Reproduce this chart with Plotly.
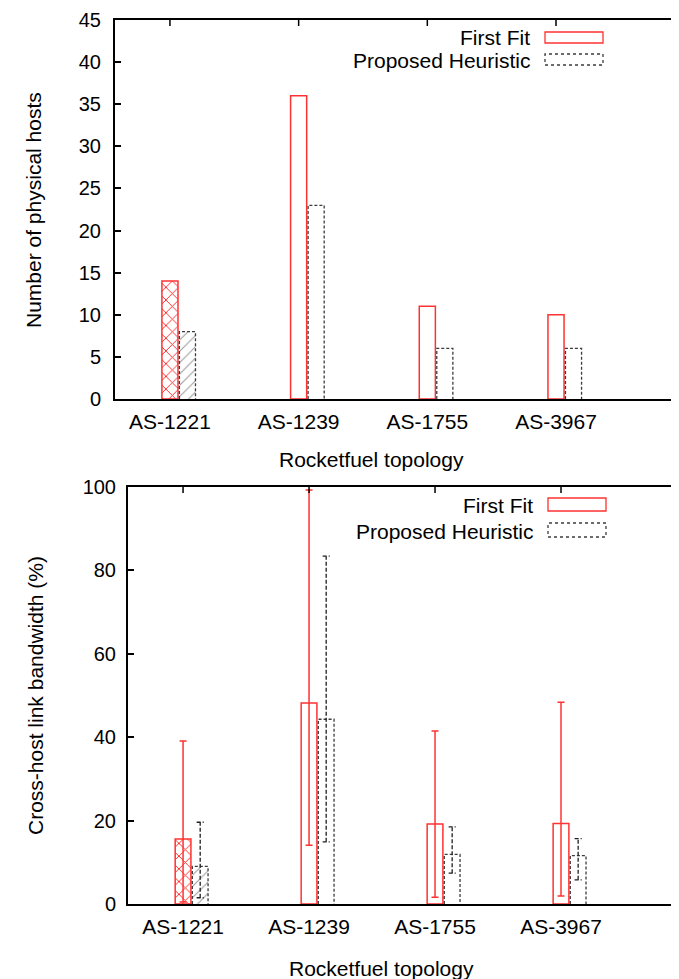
import plotly.graph_objects as go

# ---------------- data ----------------
categories = ["AS-1221", "AS-1239", "AS-1755", "AS-3967"]

hosts_first_fit = [14, 36, 11, 10]
hosts_heuristic = [8, 23, 6, 6]

bw_first_fit = [15.6, 48.2, 19.2, 19.3]
bw_first_fit_low = [0.5, 14.1, 1.6, 1.9]
bw_first_fit_high = [39.1, 99.3, 41.5, 48.4]

bw_heuristic = [9.0, 44.3, 11.9, 11.6]
bw_heuristic_low = [1.5, 14.9, 7.4, 5.8]
bw_heuristic_high = [19.6, 83.4, 18.5, 15.7]

series_names = ["First Fit", "Proposed Heuristic"]

# ---------------- styling ----------------
# page has an 8px body margin; figure sized to fit the 679x979 window
OFF = 8
W, H = 679 - 2 * OFF, 979 - OFF
FONT = "Liberation Sans, Arial, Helvetica, sans-serif"
RED = "rgb(255,50,50)"
GRAY = "rgb(60,60,60)"
BAR_W = 0.125
PH_OFF = 0.136
CAP = 0.028


def px(x):
    return (x - OFF) / W


def py(y):
    return 1 - (y - OFF) / H


xs = list(range(len(categories)))
xs_ph = [x + PH_OFF for x in xs]

fig = go.Figure()


def outline_path(xc, vals):
    ox, oy = [], []
    for x, v in zip(xc, vals):
        ox += [x - BAR_W / 2, x - BAR_W / 2, x + BAR_W / 2, x + BAR_W / 2, None]
        oy += [0, v, v, 0, None]
    return ox, oy


def err_path(xc, lows, highs):
    ox, oy = [], []
    for x, lo, hi in zip(xc, lows, highs):
        ox += [x, x, None, x - CAP, x + CAP, None, x - CAP, x + CAP, None]
        oy += [lo, hi, None, hi, hi, None, lo, lo, None]
    return ox, oy


ff_pattern = dict(shape=["x", "", "", ""], fgcolor="rgb(255,40,40)", bgcolor="white",
                  size=9, solidity=0.2)
ph_pattern = dict(shape=["/", "", "", ""], fgcolor="rgb(150,150,150)",
                  bgcolor="white", size=8, solidity=0.12)

# ---- top subplot ----
fig.add_trace(go.Bar(
    x=xs, y=hosts_first_fit, width=BAR_W, name=series_names[0],
    marker=dict(color="white", line=dict(color=RED, width=1.5), pattern=ff_pattern),
    xaxis="x", yaxis="y", showlegend=False))
fig.add_trace(go.Bar(
    x=xs_ph, y=hosts_heuristic, width=BAR_W, name=series_names[1],
    marker=dict(color="white", line=dict(width=0), pattern=ph_pattern),
    xaxis="x", yaxis="y", showlegend=False))
ox, oy = outline_path(xs_ph, hosts_heuristic)
fig.add_trace(go.Scatter(x=ox, y=oy, mode="lines",
                         line=dict(color=GRAY, width=1.3, dash="3px,2px"),
                         xaxis="x", yaxis="y", showlegend=False, hoverinfo="skip"))

# ---- bottom subplot ----
fig.add_trace(go.Bar(
    x=xs, y=bw_first_fit, width=BAR_W, name=series_names[0],
    marker=dict(color="white", line=dict(color=RED, width=1.5), pattern=ff_pattern),
    error_y=dict(type="data", symmetric=False,
                 array=[h - m for h, m in zip(bw_first_fit_high, bw_first_fit)],
                 arrayminus=[m - l for m, l in zip(bw_first_fit, bw_first_fit_low)],
                 color=RED, thickness=1.5, width=3.5),
    xaxis="x2", yaxis="y2", showlegend=False))
fig.add_trace(go.Bar(
    x=xs_ph, y=bw_heuristic, width=BAR_W, name=series_names[1],
    marker=dict(color="white", line=dict(width=0), pattern=ph_pattern),
    xaxis="x2", yaxis="y2", showlegend=False))
ox, oy = outline_path(xs_ph, bw_heuristic)
fig.add_trace(go.Scatter(x=ox, y=oy, mode="lines",
                         line=dict(color=GRAY, width=1.3, dash="3px,2px"),
                         xaxis="x2", yaxis="y2", showlegend=False, hoverinfo="skip"))
ex, ey = err_path(xs_ph, bw_heuristic_low, bw_heuristic_high)
fig.add_trace(go.Scatter(x=ex, y=ey, mode="lines",
                         line=dict(color="rgb(30,30,30)", width=1.3, dash="4px,2px"),
                         xaxis="x2", yaxis="y2", showlegend=False, hoverinfo="skip"))

tickfont = dict(family=FONT, size=20, color="black")

common_x = dict(tickvals=xs, ticktext=categories, showline=True, linecolor="black",
                linewidth=2, mirror=True, ticks="", showgrid=False, zeroline=False,
                tickfont=dict(family=FONT, size=21, color="black"),
                ticklabelstandoff=3, fixedrange=True, automargin=False)
common_y = dict(showline=True, linecolor="black", linewidth=2, ticks="inside",
                ticklen=6, tickwidth=1.5, tickcolor="black", showgrid=False,
                zeroline=False, tickfont=tickfont, mirror=False,
                automargin=False, fixedrange=True)

# the reference's plot frame runs past the right edge; stop at the figure edge
RIGHT_EDGE = OFF + W
X1_RANGE = [-0.427, 3 + (RIGHT_EDGE - 556) / 128.7]
X2_RANGE = [-0.437, 3 + (RIGHT_EDGE - 561) / 126.0]

fig.update_layout(
    template="none",
    width=W, height=H,
    autosize=False,
    margin=dict(l=0, r=0, t=0, b=0, pad=0, autoexpand=False),
    paper_bgcolor="white", plot_bgcolor="white",
    barmode="overlay",
    font=dict(family=FONT, color="black"),
    xaxis=dict(domain=[px(115), 1], range=X1_RANGE, anchor="y", **common_x),
    yaxis=dict(domain=[py(399), py(20)], range=[0, 45], dtick=5, anchor="x",
               ticklabelstandoff=8, **common_y),
    xaxis2=dict(domain=[px(128), 1], range=X2_RANGE, anchor="y2", **common_x),
    yaxis2=dict(domain=[py(904), py(487)], range=[0, 100], dtick=20, anchor="x2",
                ticklabelstandoff=6, **common_y),
)

shapes = []
# inward tick marks on the top border at each category position
for xref, yref, plot_h in (("x", "y domain", 379), ("x2", "y2 domain", 417)):
    for x in xs:
        shapes.append(dict(type="line", xref=xref, yref=yref, x0=x, x1=x,
                           y0=1, y1=1 - 6 / plot_h,
                           line=dict(color="black", width=1.5)))

titlefont = dict(family=FONT, size=21, color="black")
annotations = [
    dict(text="Number of physical hosts", x=px(33), y=py(210), textangle=-90),
    dict(text="Cross-host link bandwidth (%)", x=px(35), y=py(696), textangle=-90),
    dict(text="Rocketfuel topology", x=px(371), y=py(459)),
    dict(text="Rocketfuel topology", x=px(381), y=py(968)),
]
for a in annotations:
    a.update(xref="paper", yref="paper", showarrow=False, font=titlefont,
             xanchor="center", yanchor="middle")

# legend (text + swatches)
legend_rows = [
    (series_names[0], 532, 38, (545, 603, 32, 43), RED, "solid"),
    (series_names[1], 532, 61, (545, 603, 54, 65), GRAY, "dot"),
    (series_names[0], 535, 505, (548, 606, 498, 511), RED, "solid"),
    (series_names[1], 535, 531, (548, 606, 523, 537), GRAY, "dot"),
]
for name, tx, ty, (x0, x1, y0, y1), col, dash in legend_rows:
    annotations.append(dict(text=name, x=px(tx), y=py(ty), xref="paper", yref="paper",
                            showarrow=False, font=titlefont, xanchor="right",
                            yanchor="middle"))
    shapes.append(dict(type="rect", xref="paper", yref="paper", x0=px(x0), x1=px(x1),
                       y0=py(y1), y1=py(y0), line=dict(color=col, width=1.3, dash=dash),
                       fillcolor="white"))

fig.update_layout(annotations=annotations, shapes=shapes)

fig.write_html("out.html")
